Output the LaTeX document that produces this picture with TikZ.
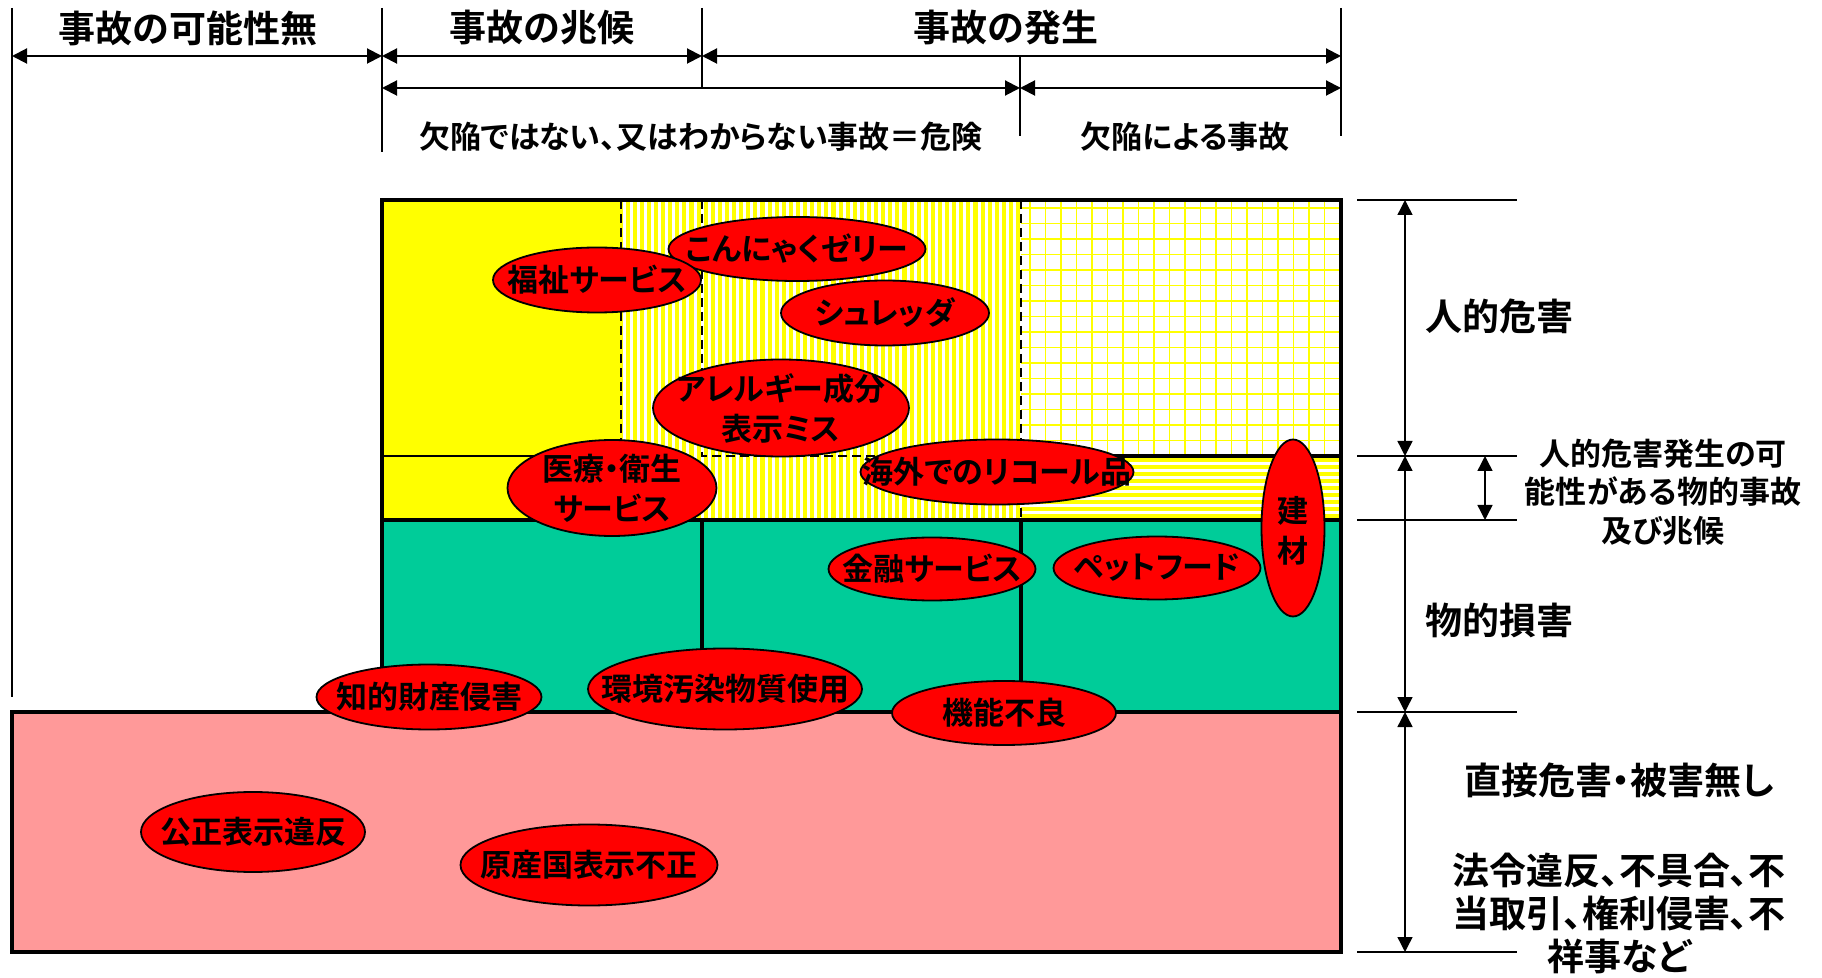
\documentclass[tikz,border=0pt]{standalone}
\usepackage{fontspec}
\setmainfont{Noto Sans CJK JP}[BoldFont={Noto Sans CJK JP Bold},RawFeature={+palt}]
\usetikzlibrary{arrows.meta}
\definecolor{hazardyellow}{RGB}{255,255,0}
\definecolor{damageteal}{RGB}{0,204,153}
\definecolor{lawpink}{RGB}{255,153,153}
\definecolor{itemred}{RGB}{255,0,0}
\tikzset{
  boxline/.style={line width=2pt},
  thinline/.style={line width=0.8pt},
  dashline/.style={line width=1.2pt,dash pattern=on 4.5pt off 2.5pt},
  tickline/.style={line width=0.7pt},
  spanarrow/.style={line width=1pt,{Triangle[length=7.5pt,width=7.5pt]}-{Triangle[length=7.5pt,width=7.5pt]}},
  sidearrow/.style={line width=0.7pt,{Triangle[length=7.5pt,width=7.5pt]}-{Triangle[length=7.5pt,width=7.5pt]}},
  itemoval/.style={draw=black,line width=0.9pt,fill=itemred},
  itemtext/.style={font=\bfseries\fontsize{15.5}{20}\selectfont,align=center,inner sep=0pt},
  headtext/.style={font=\bfseries\fontsize{18.5}{22}\selectfont},
  subtext/.style={font=\bfseries\fontsize{15.5}{18}\selectfont},
  sidetext/.style={font=\bfseries\fontsize{18.5}{22}\selectfont,align=center},
  notetext/.style={font=\bfseries\fontsize{15.5}{19.25}\selectfont,align=center},
  lawtext/.style={font=\bfseries\fontsize{18.5}{21.5}\selectfont,align=center},
}
\begin{document}
\begin{tikzpicture}[x=0.5pt,y=0.5pt,yscale=-1,xscale=1]
\useasboundingbox (0,0) rectangle (1822,978);

% Area: yellow
\fill[hazardyellow] (382,200) rectangle (621,520);
% Area: vertical stripes
\begin{scope}
\clip (621,200) rectangle (1021,520);
\fill[hazardyellow] (621,200) rectangle (1021,520);
\foreach \i in {0,...,56}
  \draw[white,line width=1.5pt] ({624+7.1*\i},200) -- ++(0,320);
\end{scope}
% Area: grid
\begin{scope}
\clip (1021,200) rectangle (1341,456);
\foreach \i in {0,...,20}
  \draw[hazardyellow,line width=0.9pt] ({1030+15.5*\i},200) -- ++(0,256);
\foreach \j in {0,...,16}
  \draw[hazardyellow,line width=0.9pt] (1021,{208+15.5*\j}) -- ++(320,0);
\end{scope}
% Area: horizontal stripes
\begin{scope}
\clip (1021,456) rectangle (1341,520);
\foreach \j in {0,...,9}
  \draw[hazardyellow,line width=2pt] (1021,{460+7*\j}) -- ++(320,0);
\end{scope}
% Area: teal
\fill[damageteal] (382,520) rectangle (1341,712);
% Area: pink
\fill[lawpink] (12,712) rectangle (1341,952);

% Frame
\draw[dashline] (621,200) -- (621,520);
\draw[dashline] (702,200) -- (702,456) -- (1021,456);
\draw[dashline] (1021,200) -- (1021,520);
\draw[thinline] (382,456) -- (621,456);
\draw[boxline] (382,200) rectangle (1341,712);
\draw[boxline] (382,520) -- (1341,520);
\draw[boxline] (1021,456) -- (1341,456);
\draw[boxline] (702,520) -- (702,712);
\draw[boxline] (1021,520) -- (1021,712);
\draw[boxline] (12,712) rectangle (1341,952);

% Ticks
\draw[tickline] (12,8) -- (12,697);
\draw[tickline] (382,8) -- (382,152);
\draw[tickline] (702,8) -- (702,87);
\draw[tickline] (1020,57) -- (1020,136);
\draw[tickline] (1341,8) -- (1341,136);
\foreach \y in {200,456,520,712,952}
  \draw[thinline] (1357,\y) -- (1517,\y);

% Span ends
\coordinate (s0) at (12,56);
\coordinate (s1) at (382,56);
\coordinate (s2) at (702,56);
\coordinate (s3) at (1341,56);
\coordinate (d0) at (382,88);
\coordinate (d1) at (1020,88);
\coordinate (d2) at (1341,88);
\coordinate (v0) at (1405,200);
\coordinate (v1) at (1405,456);
\coordinate (v2) at (1405,712);
\coordinate (v3) at (1405,952);
\coordinate (w0) at (1485,456);
\coordinate (w1) at (1485,520);

% Connection
\draw[spanarrow] (s0) -- (s1);
\draw[spanarrow] (s1) -- (s2);
\draw[spanarrow] (s2) -- (s3);
\draw[spanarrow] (d0) -- (d1);
\draw[spanarrow] (d1) -- (d2);
\draw[sidearrow] (v0) -- (v1);
\draw[sidearrow] (v1) -- (v2);
\draw[sidearrow] (v2) -- (v3);
\draw[sidearrow] (w0) -- (w1);

% Text Node
\draw (188,28) node (nochance) [headtext] {事故の可能性無};
\draw (542,28) node (omen) [headtext] {事故の兆候};
\draw (1006,28) node (occur) [headtext] {事故の発生};
\draw (701,137) node (nodefect) [subtext] {欠陥ではない、又はわからない事故＝危険};
\draw (1185,137) node (bydefect) [subtext] {欠陥による事故};
\draw (1499,316) node (human) [sidetext] {人的危害};
\draw (1663,492) node (possible) [notetext] {人的危害発生の可\\能性がある物的事故\\及び兆候};
\draw (1499,620) node (material) [sidetext] {物的損害};
\draw (1619,780) node (nodirect) [sidetext] {直接危害・被害無し};
\draw (1619,913) node (legal) [lawtext] {法令違反、不具合、不\\当取引、権利侵害、不\\祥事など};

% Items
\draw[itemoval] (797,249) ellipse [x radius=128.5,y radius=32];
\draw (797,249) node (konnyaku) [itemtext] {こんにゃくゼリー};
\draw[itemoval] (597,280) ellipse [x radius=104,y radius=32.5];
\draw (597,280) node (welfare) [itemtext] {福祉サービス};
\draw[itemoval] (885,313) ellipse [x radius=104,y radius=32.5];
\draw (885,313) node (shredder) [itemtext] {シュレッダ};
\draw[itemoval] (781,408) ellipse [x radius=128,y radius=48.5];
\draw (781,408) node (allergy) [itemtext] {アレルギー成分\\表示ミス};
\draw[itemoval] (612,488) ellipse [x radius=104.5,y radius=48];
\draw (612,488) node (medical) [itemtext] {医療・衛生\\サービス};
\draw[itemoval] (997,472) ellipse [x radius=136.5,y radius=32.5];
\draw (997,472) node (recall) [itemtext] {海外でのリコール品};
\draw[itemoval] (932,569) ellipse [x radius=103.5,y radius=31.5];
\draw (932,569) node (finance) [itemtext] {金融サービス};
\draw[itemoval] (1157,568) ellipse [x radius=103.5,y radius=31.5];
\draw (1157,568) node (petfood) [itemtext] {ペットフード};
\draw[itemoval] (1293,528) ellipse [x radius=31.5,y radius=88.5];
\draw (1293,531) node (building) [itemtext] {建\\材};
\draw[itemoval] (429,697) ellipse [x radius=112.5,y radius=32.5];
\draw (429,697) node (patent) [itemtext] {知的財産侵害};
\draw[itemoval] (725,689) ellipse [x radius=137,y radius=40.5];
\draw (725,689) node (pollutant) [itemtext] {環境汚染物質使用};
\draw[itemoval] (1004,713) ellipse [x radius=112,y radius=32];
\draw (1004,713) node (malfunction) [itemtext] {機能不良};
\draw[itemoval] (253,832) ellipse [x radius=112,y radius=40];
\draw (253,832) node (fairlabel) [itemtext] {公正表示違反};
\draw[itemoval] (589,865) ellipse [x radius=128.5,y radius=40.5];
\draw (589,865) node (origin) [itemtext] {原産国表示不正};

\end{tikzpicture}
\end{document}
